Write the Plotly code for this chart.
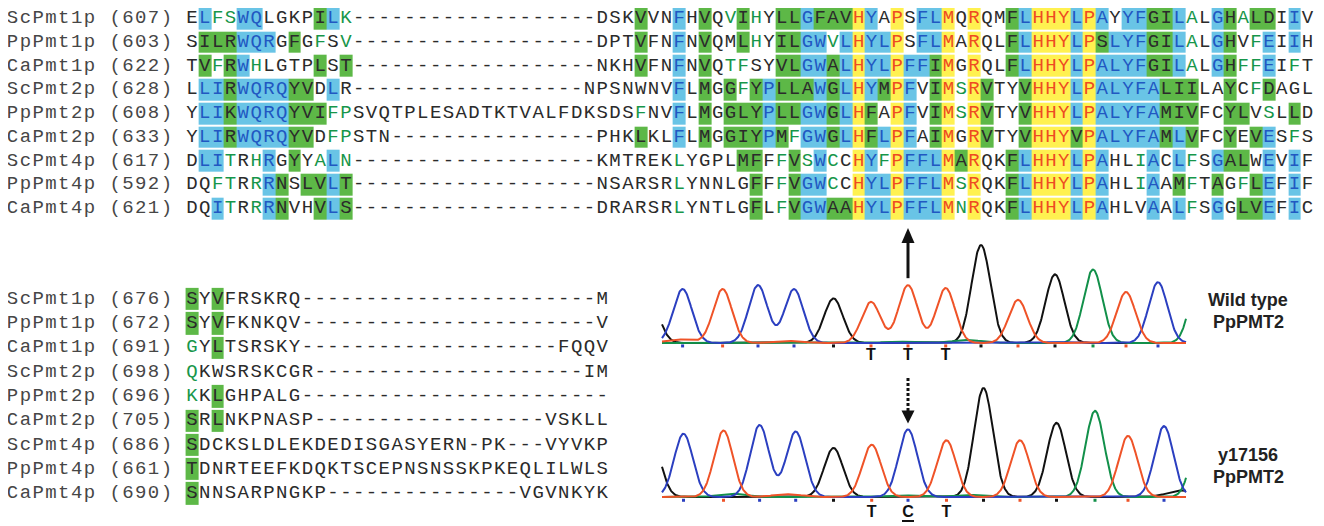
import numpy as np
import plotly.graph_objects as go

# ---------------- alignment data ----------------
seq_names = ["ScPmt1p", "PpPmt1p", "CaPmt1p", "ScPmt2p", "PpPmt2p",
             "CaPmt2p", "ScPmt4p", "PpPmt4p", "CaPmt4p"]
top_starts = [607, 603, 622, 628, 608, 633, 617, 592, 621]
low_starts = [676, 672, 691, 698, 696, 705, 686, 661, 690]

top_seqs = [
    "ELFSWQLGKPILK" + "-" * 19 + "DSKVVNFHVQVIHYLLGFAVHYAPSFLMQRQMFLHHYLPAYYFGILALGHALDIIV",
    "SILRWQRGFGFSV" + "-" * 19 + "DPTVFNFNVQMLHYILGWVLHYLPSFLMARQLFLHHYLPSLYFGILALGHVFEIIH",
    "TVFRWHLGTPLST" + "-" * 19 + "NKHVFNFNVQTFSYVLGWALHYLPFFIMGRQLFLHHYLPALYFGILALGHFFEIFT",
    "LLIRWQRQYVDLR" + "-" * 18 + "NPSNWNVFLMGGFYPLLAWGLHYMPFVIMSRVTYVHHYLPALYFALIILAYCFDAGL",
    "YLIKWQRQYVIFPSVQTPLESADTKTVALFDKSDSFNVFLMGGLYPLLGWGLHFAPFVIMSRVTYVHHYLPALYFAMIVFCYLVSLLD",
    "YLIRWQRQYVDFPSTN" + "-" * 16 + "PHKLKLFLMGGIYPMFGWGLHFLPFAIMGRVTYVHHYVPALYFAMLVFCYEVESFS",
    "DLITRHRGYYALN" + "-" * 19 + "KMTREKLYGPLMFFFVSWCCHYFPFFLMARQKFLHHYLPAHLIACLFSGALWEVIF",
    "DQFTRRRNSLVLT" + "-" * 19 + "NSARSRLYNNLGFFFVGWCCHYLPFFLMSRQKFLHHYLPAHLIAAMFTAGFLEFIF",
    "DQITRRRNVHVLS" + "-" * 19 + "DRARSRLYNTLGFLFVGWAAHYLPFFLMNRQKFLHHYLPAHLVAALFSGGLVEFIC",
]
# conservation class per residue: k plain, g weakly similar (green letter),
# G similar (green box), B conserved (blue box), Y identical (yellow box)
top_cls = [
    "kBggBBkkkkGBg" + "k" * 19 + "kkkGkkBkGkgGgkGGBGGGYB" + "kYkBBYkYkkGBYYYBYBkBBGGBgkBGgGGkBk",
    "kGGGBBBkGkgkg" + "k" * 19 + "kkkGkkBkGkkGgkGGBBgBYB" + "BYkBBYkYkkGBYYYBYGBBBGGBgkBGkgBkBk",
    "kGgGBgkkkkGkG" + "k" * 19 + "kkkGkkBkGkggkkGGBBGBYB" + "BYBBGYkYkkGBYYYBYBBBBGGBgkBGggBkgk",
    "kBBGBBBBGGkBk" + "k" * 18 + "kkkkkkkBkGkGgGBGGGBGBYB" + "GYBkGYgYGkkGYYYBYBBBBBGGGkkGkgGkkk",
    "kBBGBBBBGGGgg" + "k" * 22 + "gkkBkGkGGGBGGBBGBYG" + "kYBkGYgYGkkGYYYBYBBBBBGGGkkGGkgkGk",
    "kBBGBBBBGGkggkkk" + "k" * 16 + "kkkGkkBkGkGGGBGgBBGBYG" + "BYBkGYkYGkkGYYYGYBBBBBGBGkkGkGBkgk",
    "kBBgkgBkGkgBg" + "k" * 19 + "kkkkkkgkkkkGGkgGgBgkYB" + "gYBBBYGYkkGBYYYBYBkkgBkBgkBGGkBkBk",
    "kkggkgBGkGGBG" + "k" * 19 + "kkkkkkgkkkkkGkgGBBgkYB" + "BYBBBYgYkkGBYYYBYBkkgBkGgkGkgGBkBk",
    "kkBgkgBGkkGBG" + "k" * 19 + "kkkkkkgkkkkkGkgGBBGGYB" + "BYBBBYgYkkGBYYYBYBkkkBkBgkBkGGBkBk",
]

low_seqs = [
    "SYVFRSKRQ" + "-" * 23 + "M",
    "SYVFKNKQV" + "-" * 23 + "V",
    "GYLTSRSKY" + "-" * 20 + "FQQV",
    "QKWSRSKCGR" + "-" * 21 + "IM",
    "KKLGHPALG" + "-" * 24,
    "SRLNKPNASP" + "-" * 18 + "VSKLL",
    "SDCKSLDLEKDEDISGASYERN-PK---VYVKP",
    "TDNRTEEFKDQKTSCEPNSNSSKPKEQLILWLS",
    "SNNSARPNGKP" + "-" * 15 + "VGVNKYK",
]
low_cls_prefix = ["GkG", "GkG", "gkG", "gkk", "gkG", "GkG", "Gkk", "Gkk", "Gkk"]
low_cls = [p.ljust(len(s), "k") for p, s in zip(low_cls_prefix, low_seqs)]

# ---------------- chromatogram data ----------------
# peak positions (scan units), relative heights, base calls
top_pos = [-12, 20.6, 60.6, 96, 132, 171.5, 209, 246, 283.7, 319, 356, 393, 431, 464, 496, 538]
top_h = [0.43, 0.55, 0.55, 0.59, 0.55, 0.455, 0.42, 0.59, 0.56, 1.0, 0.44, 0.70, 0.75, 0.52, 0.62, 0.75]
top_base = ["G", "C", "T", "C", "C", "G", "T", "T", "T", "G", "T", "G", "A", "T", "C", "A"]
top_minor = [(18, 0.035, "T"), (128, 0.02, "T"), (235, 0.015, "A"), (305, 0.03, "A"), (395, 0.01, "C")]

bot_pos = [-11, 21.5, 61.5, 97.6, 133.7, 171.5, 209.7, 246, 284.5, 321.5, 358, 394.5, 433, 466, 502, 540]
bot_h = [0.55, 0.58, 0.61, 0.66, 0.60, 0.45, 0.48, 0.62, 0.52, 1.0, 0.52, 0.68, 0.79, 0.56, 0.65, 0.75]
bot_base = ["G", "C", "T", "C", "C", "G", "T", "C", "T", "G", "T", "G", "A", "T", "C", "A"]
bot_minor = [(70, 0.03, "A"), (125, 0.025, "T"), (240, 0.015, "A"), (305, 0.02, "A"), (520, 0.06, "G")]

called_idx = [6, 7, 8]
mut_idx = 7
top_calls = ["T", "T", "T"]
bot_calls = ["T", "C", "T"]
wt_label = ["Wild type", "PpPMT2"]
mut_label = ["y17156", "PpPMT2"]

# ---------------- styling ----------------
OFF = 8                         # page body margin of the html page
W, H = 1324 - OFF, 526 - OFF
CW, X0 = 12.82, 192.0 - OFF     # px per alignment column, px of column 0
RH, Y0 = 23.725, 18.5 - OFF     # top block row height / first row px
RH2, Y02 = 24.3, 299.0 - OFF    # lower block
S0 = 662.0 - OFF                # px of scan 0
TB, TS = 343.0 - OFF, 98.0      # top trace baseline px / full-scale px
BB, BS = 497.0 - OFF, 109.0     # bottom trace baseline px / full-scale px

BG_CODE = {"B": 1, "G": 2, "Y": 3}
BG_SCALE = [[0, "#69C4E6"], [1 / 3, "#69C4E6"], [1 / 3, "#5DB847"], [2 / 3, "#5DB847"],
            [2 / 3, "#FFF150"], [1, "#FFF150"]]
TXT_COL = {"k": "#2b2b2b", "g": "#17964a", "G": "#2b2b2b", "B": "#2158C2", "Y": "#EE4B22"}
MONO = "Liberation Mono"
SANS = "Liberation Sans"
BASE_COL = {"C": "#2B3FC0", "T": "#EF5328", "G": "#111111", "A": "#12904A"}

fig = go.Figure()


def add_block(seqs, classes, names, starts, yaxis):
    for s, c in zip(seqs, classes):
        assert len(s) == len(c), (s, len(s), len(c))
    ncol = len(seqs[0])
    z = [[BG_CODE.get(c) for c in cl] for cl in classes]
    fig.add_trace(go.Heatmap(z=z, x=list(range(ncol)), y=list(range(len(seqs))),
                             zmin=0.5, zmax=3.5, colorscale=BG_SCALE, showscale=False,
                             xgap=0, ygap=2, hoverinfo="skip", xaxis="x", yaxis=yaxis))
    xs, ys, ts, cs = [], [], [], []
    for r, (s, cl) in enumerate(zip(seqs, classes)):
        for i, (ch, c) in enumerate(zip(s, cl)):
            xs.append(i); ys.append(r); ts.append(ch); cs.append(TXT_COL[c])
    fig.add_trace(go.Scatter(x=xs, y=ys, mode="text", text=ts, cliponaxis=False,
                             textfont=dict(family=MONO, size=19, color=cs),
                             hoverinfo="skip", xaxis="x", yaxis=yaxis))
    lx, ly, lt = [], [], []
    for r, (n, st) in enumerate(zip(names, starts)):
        lab = f"{n} ({st})"
        for j, ch in enumerate(lab):
            lx.append(j - len(lab) - 1); ly.append(r); lt.append(ch)
    fig.add_trace(go.Scatter(x=lx, y=ly, mode="text", text=lt, cliponaxis=False,
                             textfont=dict(family=MONO, size=19, color="#464646"),
                             hoverinfo="skip", xaxis="x", yaxis=yaxis))


add_block(top_seqs, top_cls, seq_names, top_starts, "y")
add_block(low_seqs, low_cls, seq_names, low_starts, "y2")

SIG = 9.4
xs = np.arange(0, 524.5, 0.5)


def add_trace_set(pos, hts, bases, minor, yaxis):
    for b in ["G", "A", "C", "T"]:
        y = np.zeros_like(xs)
        for p, h, bb in zip(pos, hts, bases):
            if bb == b:
                y += h * np.exp(-(xs - p) ** 2 / (2 * SIG ** 2))
        for p, h, bb in minor:
            if bb == b:
                y += h * np.exp(-(xs - p) ** 2 / (2 * (1.5 * SIG) ** 2))
        fig.add_trace(go.Scatter(x=xs, y=y, mode="lines", line=dict(color=BASE_COL[b], width=2),
                                 hoverinfo="skip", xaxis="x2", yaxis=yaxis))
    vis = [(p, b) for p, b in zip(pos, bases) if 0 <= p <= 524]
    fig.add_trace(go.Scatter(x=[p for p, _ in vis], y=[-0.03] * len(vis), mode="markers",
                             marker=dict(size=3, symbol="square", color=[BASE_COL[b] for _, b in vis]),
                             hoverinfo="skip", xaxis="x2", yaxis=yaxis))


add_trace_set(top_pos, top_h, top_base, top_minor, "y3")
add_trace_set(bot_pos, bot_h, bot_base, bot_minor, "y4")

# base call letters
call_font = dict(family=SANS, size=16, color="#111111", weight="bold")
fig.add_trace(go.Scatter(x=[top_pos[i] for i in called_idx], y=[-13 / TS] * 3, mode="text",
                         text=top_calls, textfont=call_font, hoverinfo="skip", xaxis="x2", yaxis="y3"))
fig.add_trace(go.Scatter(x=[bot_pos[i] for i in called_idx], y=[-16 / BS] * 3, mode="text",
                         text=bot_calls, textfont=call_font, hoverinfo="skip", xaxis="x2", yaxis="y4"))
# underline the mutated base
mx = bot_pos[mut_idx]
fig.add_trace(go.Scatter(x=[mx - 6, mx + 6], y=[-24 / BS] * 2, mode="lines",
                         line=dict(color="#111111", width=2), hoverinfo="skip", xaxis="x2", yaxis="y4"))

# solid arrow (top)
ax_ = top_pos[mut_idx]
tail = top_h[mut_idx] + 7 / TS
tip = (TB - (228 - OFF)) / TS
head = 15 / TS
fig.add_trace(go.Scatter(x=[ax_, ax_], y=[tail, tip - head + 0.02], mode="lines",
                         line=dict(color="#111111", width=3), hoverinfo="skip", xaxis="x2", yaxis="y3"))
fig.add_trace(go.Scatter(x=[ax_ - 6.5, ax_ + 6.5, ax_, ax_ - 6.5], y=[tip - head, tip - head, tip, tip - head],
                         mode="lines", fill="toself", fillcolor="#111111", line=dict(width=0, color="#111111"),
                         hoverinfo="skip", xaxis="x2", yaxis="y3"))
# dotted arrow (bottom)
bx = bot_pos[mut_idx]
btop = (BB - (378 - OFF)) / BS
btip = bot_h[mut_idx] + 6 / BS
bhead = 13 / BS
fig.add_trace(go.Scatter(x=[bx, bx], y=[btop, btip + bhead - 0.01], mode="lines",
                         line=dict(color="#111111", width=3, dash="3px,2px"), hoverinfo="skip",
                         xaxis="x2", yaxis="y4"))
fig.add_trace(go.Scatter(x=[bx - 6.5, bx + 6.5, bx, bx - 6.5], y=[btip + bhead, btip + bhead, btip, btip + bhead],
                         mode="lines", fill="toself", fillcolor="#111111", line=dict(width=0, color="#111111"),
                         hoverinfo="skip", xaxis="x2", yaxis="y4"))

annots = []
for txt, py in zip(wt_label + mut_label, [300, 322, 455, 477]):
    annots.append(dict(text=txt, x=(1248 - OFF) / W, y=1 - (py - OFF) / H, xref="paper", yref="paper",
                       showarrow=False, xanchor="center", yanchor="middle",
                       font=dict(family=SANS, size=18, color="#222222", weight="bold")))

fig.update_layout(
    width=W, height=H, margin=dict(l=0, r=0, t=0, b=0), autosize=False,
    paper_bgcolor="white", plot_bgcolor="white", showlegend=False,
    xaxis=dict(range=[-X0 / CW, (W - X0) / CW], visible=False, domain=[0, 1], fixedrange=True),
    yaxis=dict(range=[(H - Y0) / RH, -Y0 / RH], visible=False, domain=[0, 1], fixedrange=True),
    yaxis2=dict(range=[(H - Y02) / RH2, -Y02 / RH2], visible=False, overlaying="y", fixedrange=True),
    xaxis2=dict(range=[-S0, W - S0], visible=False, overlaying="x", fixedrange=True),
    yaxis3=dict(range=[(TB - H) / TS, TB / TS], visible=False, overlaying="y", fixedrange=True),
    yaxis4=dict(range=[(BB - H) / BS, BB / BS], visible=False, overlaying="y", fixedrange=True),
    annotations=annots,
)

fig.write_html("out.html")
